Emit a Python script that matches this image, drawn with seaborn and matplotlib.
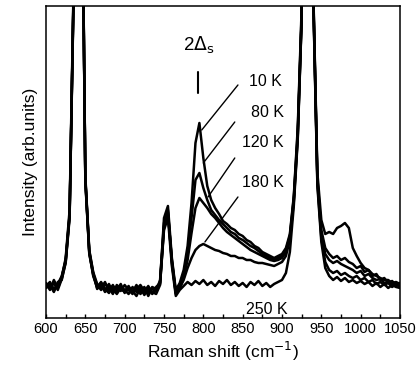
import numpy as np
import pandas as pd
import matplotlib
matplotlib.use("Agg")
import matplotlib.pyplot as plt
import seaborn as sns

# Raman shift grid (cm^-1), every 5 cm^-1
shift = list(range(600, 1051, 5))

# Intensities (arb. units)
i_10K = [35, 28, 38, 30, 40, 60, 108, 330, 900, 520, 142, 68, 46, 34, 30, 36, 27, 33, 25, 32,
         28, 24, 31, 26, 30, 23, 29, 25, 31, 35, 100, 112, 60, 28, 35, 48, 72, 115, 175, 195,
         160, 132, 118, 110, 104, 97, 94, 90, 88, 84, 82, 78, 76, 72, 70, 66, 64, 62, 60, 62,
         64, 70, 84, 122, 190, 310, 800, 900, 320, 145, 98, 84, 86, 84, 90, 92, 95, 90, 70, 62,
         55, 50, 48, 44, 42, 40, 38, 38, 35, 36, 34]
i_80K = [32, 36, 27, 34, 42, 58, 104, 320, 900, 515, 140, 66, 43, 30, 35, 28, 34, 26, 31, 27,
         33, 28, 24, 32, 27, 31, 22, 30, 27, 38, 95, 108, 55, 25, 32, 44, 66, 100, 138, 145,
         130, 118, 108, 103, 98, 94, 90, 86, 84, 80, 78, 75, 72, 70, 67, 64, 62, 60, 58, 60,
         62, 68, 82, 120, 186, 305, 800, 900, 315, 140, 88, 70, 64, 60, 62, 58, 60, 56, 54, 50,
         52, 46, 48, 42, 44, 38, 40, 35, 37, 33, 35]
i_120K = [30, 33, 26, 36, 38, 56, 102, 325, 900, 518, 138, 64, 44, 33, 28, 34, 30, 24, 33, 29,
          26, 31, 27, 22, 30, 26, 32, 24, 28, 36, 90, 104, 58, 26, 30, 40, 58, 85, 110, 120,
          115, 110, 104, 100, 95, 90, 86, 83, 80, 77, 74, 71, 68, 66, 64, 62, 60, 58, 57, 58,
          60, 66, 80, 118, 182, 300, 800, 900, 318, 138, 84, 64, 58, 55, 57, 54, 52, 50, 48, 45,
          47, 42, 44, 40, 38, 39, 35, 36, 34, 33, 32]
i_180K = [34, 29, 35, 28, 39, 55, 100, 318, 900, 510, 136, 65, 42, 31, 36, 29, 25, 32, 28, 34,
          25, 30, 26, 33, 24, 28, 31, 26, 24, 33, 92, 106, 57, 24, 30, 38, 50, 60, 68, 72,
          74, 72, 70, 68, 67, 65, 64, 62, 62, 60, 60, 58, 58, 56, 55, 55, 54, 53, 52, 54,
          56, 62, 78, 116, 180, 300, 800, 900, 312, 135, 80, 56, 48, 45, 47, 43, 45, 42, 40, 42,
          38, 40, 36, 38, 34, 36, 33, 35, 31, 34, 32]
i_250K = [31, 35, 29, 33, 41, 57, 103, 322, 900, 512, 139, 67, 45, 29, 33, 26, 31, 29, 24, 30,
          27, 32, 25, 29, 33, 27, 25, 31, 29, 34, 88, 100, 52, 22, 28, 32, 36, 33, 37, 34,
          38, 33, 36, 32, 37, 34, 38, 33, 36, 32, 35, 31, 36, 33, 37, 32, 35, 31, 34, 36,
          38, 45, 66, 112, 178, 298, 800, 900, 310, 132, 76, 50, 42, 38, 41, 37, 40, 36, 38, 35,
          37, 34, 36, 32, 35, 31, 34, 30, 33, 31, 30]

temps = ["10 K", "80 K", "120 K", "180 K", "250 K"]
series = [i_10K, i_80K, i_120K, i_180K, i_250K]

frames = []
for t, s in zip(temps, series):
    assert len(s) == len(shift)
    frames.append(pd.DataFrame({"shift": shift, "intensity": s, "T": t}))
df = pd.concat(frames, ignore_index=True)

sns.set_style("ticks")
plt.rcParams["font.family"] = ["Liberation Sans", "DejaVu Sans"]
plt.rcParams["text.color"] = "black"
plt.rcParams["axes.labelcolor"] = "black"
plt.rcParams["xtick.color"] = "black"

fig = plt.figure(figsize=(4.16, 3.86), dpi=100)
ax = fig.add_axes([0.1106, 0.1762, 0.8509, 0.8083])

sns.lineplot(data=df, x="shift", y="intensity", hue="T", hue_order=temps,
             palette=["black"] * 5, linewidth=1.8, legend=False, ax=ax,
             estimator=None, sort=False)

ax.set_xlim(600, 1050)
ax.set_ylim(0, 312)
ax.set_xticks(range(600, 1051, 50))
ax.set_xticks(range(625, 1050, 50), minor=True)
ax.set_yticks([])
ax.tick_params(axis="x", which="both", direction="in", length=3, width=1,
               top=False, labelsize=10.5, pad=3, colors="black")
for sp in ax.spines.values():
    sp.set_visible(True)
    sp.set_linewidth(1.1)
    sp.set_color("black")

ax.set_xlabel("Raman shift (cm$^{-1}$)", fontsize=12.5, labelpad=3, color="black")
ax.set_ylabel("Intensity (arb.units)", fontsize=12.5, labelpad=6, color="black")

# labels and leader lines
lab_x = [879, 881, 876, 876]
lab_y = [236, 205, 175, 135]
lead_from = [(844, 233), (840, 196), (840, 160), (844, 121)]
lead_to = [(798, 188), (800, 155), (806, 121), (802, 76)]
for t, lx, ly, a, b in zip(temps[:4], lab_x, lab_y, lead_from, lead_to):
    ax.text(lx, ly, t, fontsize=11.5, ha="center", va="center", color="black")
    ax.plot([a[0], b[0]], [a[1], b[1]], color="black", lw=1.0)
ax.text(881, 8, temps[4], fontsize=11.5, ha="center", va="center", color="black")

ax.text(794, 273, r"2$\Delta_{\rm s}$", fontsize=13.5, ha="center", va="center",
        color="black")
ax.plot([793, 793], [225, 246], color="black", lw=1.5)

fig.savefig("out.png", dpi=100)
